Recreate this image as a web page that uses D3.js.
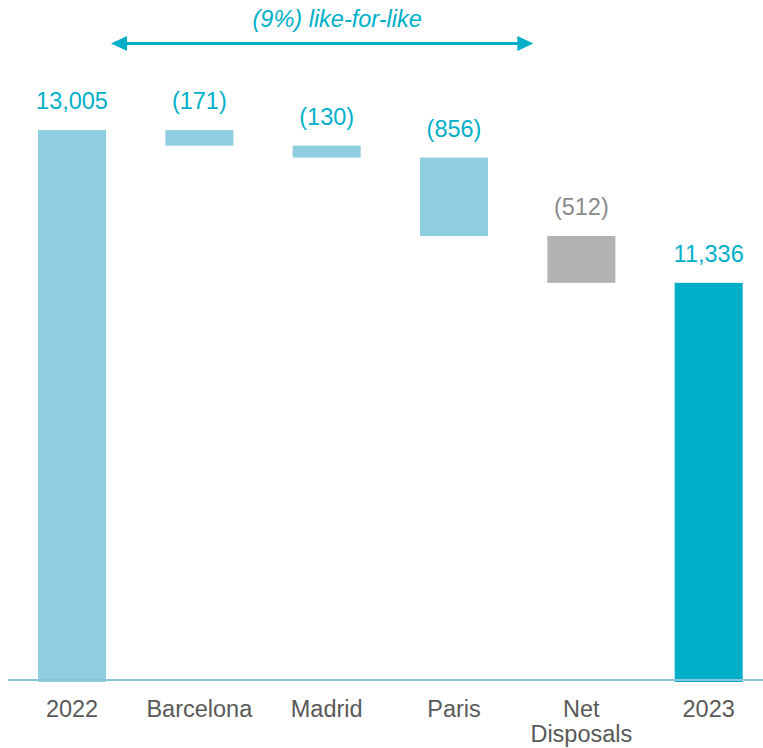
<!DOCTYPE html>
<html>
<head>
<meta charset="utf-8">
<script src="https://cdn.jsdelivr.net/npm/d3@7"></script>
<style>
  html, body { margin: 0; padding: 0; background: #ffffff; }
  svg { display: block; font-family: "Liberation Sans", Arial, sans-serif; }
</style>
</head>
<body>
<svg id="chart" width="763" height="748"></svg>
<script>
// Waterfall: 2022 value bridged to 2023 value
const categories = ["2022", "Barcelona", "Madrid", "Paris", "Net Disposals", "2023"];
const values = [13005, -171, -130, -856, -512, 11336];
const barTypes = ["total", "delta", "delta", "delta", "disposal", "total-end"];
const bannerText = "(9%) like-for-like";
const axisMin = 7000;

const W = 763, H = 748;
const baseY = 680, topY = 130;
const fontSize = 23.5;

const fillColor = {
  "total": "#8fcee0",
  "delta": "#8fcee0",
  "disposal": "#b2b2b2",
  "total-end": "#00aec7"
};
const labelColor = {
  "total": "#00afc9",
  "delta": "#00afc9",
  "disposal": "#8a8a8a",
  "total-end": "#00afc9"
};

// Build start/end of each bar
let running = 0;
const rows = categories.map((c, i) => {
  const t = barTypes[i];
  let lo, hi;
  if (t === "total" || t === "total-end") {
    lo = axisMin; hi = values[i]; running = values[i];
  } else {
    const next = running + values[i];
    lo = Math.min(running, next); hi = Math.max(running, next);
    running = next;
  }
  return { cat: c, value: values[i], type: t, lo, hi };
});

const svg = d3.select("#chart");

const x = d3.scaleBand()
  .domain(categories)
  .range([8.35, 772.35])
  .paddingInner(0.466)
  .paddingOuter(0.233);

const y = d3.scaleLinear()
  .domain([axisMin, d3.max(values)])
  .range([baseY, topY]);

const bw = x.bandwidth();

// Bars
svg.append("g").selectAll("rect")
  .data(rows)
  .join("rect")
  .attr("x", d => x(d.cat))
  .attr("width", bw)
  .attr("y", d => y(d.hi))
  .attr("height", d => (d.lo === axisMin ? y(d.lo) + 2 : y(d.lo)) - y(d.hi))
  .attr("fill", d => fillColor[d.type]);

// Value labels
const fmt = d3.format(",");
svg.append("g").selectAll("text")
  .data(rows)
  .join("text")
  .attr("x", d => x(d.cat) + bw / 2)
  .attr("y", d => y(d.hi) - 21)
  .attr("text-anchor", "middle")
  .attr("font-size", fontSize)
  .attr("fill", d => labelColor[d.type])
  .text(d => d.value < 0 ? "(" + fmt(-d.value) + ")" : fmt(d.value));

// Baseline
svg.append("line")
  .attr("x1", 8).attr("x2", W)
  .attr("y1", baseY).attr("y2", baseY)
  .attr("stroke", "#86c6d8")
  .attr("stroke-width", 2);

// Category labels (wrapped on spaces for the multi-word one)
const catG = svg.append("g");
categories.forEach(c => {
  const words = c.split(" ");
  const t = catG.append("text")
    .attr("x", x(c) + bw / 2)
    .attr("y", 717)
    .attr("text-anchor", "middle")
    .attr("font-size", fontSize)
    .attr("fill", "#595959");
  words.forEach((w, i) => {
    t.append("tspan")
      .attr("x", x(c) + bw / 2)
      .attr("dy", i === 0 ? 0 : 25)
      .text(w);
  });
});

// Like-for-like span arrow
const arrowColor = "#00aec7";
const ax1 = x("2022") + bw + 5;
const ax2 = x("Net Disposals") - 14;
const ay = 43.5;
const headLen = 16, headHalf = 7.5;
const ag = svg.append("g");
ag.append("line")
  .attr("x1", ax1 + headLen - 2).attr("x2", ax2 - headLen + 2)
  .attr("y1", ay).attr("y2", ay)
  .attr("stroke", arrowColor)
  .attr("stroke-width", 3);
ag.append("path")
  .attr("d", d3.line()([[ax1, ay], [ax1 + headLen, ay - headHalf], [ax1 + headLen, ay + headHalf]]) + "Z")
  .attr("fill", arrowColor);
ag.append("path")
  .attr("d", d3.line()([[ax2, ay], [ax2 - headLen, ay - headHalf], [ax2 - headLen, ay + headHalf]]) + "Z")
  .attr("fill", arrowColor);

svg.append("text")
  .attr("x", (ax1 + ax2) / 2 + 15)
  .attr("y", 27)
  .attr("text-anchor", "middle")
  .attr("font-size", fontSize)
  .attr("font-style", "italic")
  .attr("fill", "#00afc9")
  .text(bannerText);
</script>
</body>
</html>
